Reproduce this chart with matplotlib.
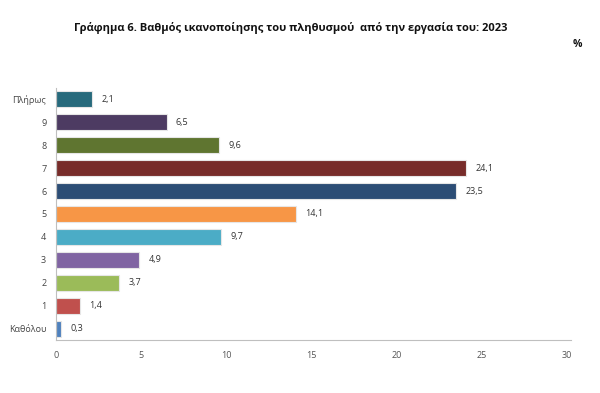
import matplotlib
matplotlib.use("Agg")
import matplotlib.pyplot as plt

categories = ["Καθόλου", "1", "2", "3", "4", "5", "6", "7", "8", "9", "Πλήρως"]
values = [0.3, 1.4, 3.7, 4.9, 9.7, 14.1, 23.5, 24.1, 9.6, 6.5, 2.1]
labels = ["0,3", "1,4", "3,7", "4,9", "9,7", "14,1", "23,5", "24,1", "9,6", "6,5", "2,1"]
colors = ["#4f81bd", "#c0504d", "#9bbb59", "#8064a2", "#4bacc6", "#f79646",
          "#2c4d75", "#772c2a", "#5f7530", "#4d3b62", "#276a7c"]
xticks = [0, 5, 10, 15, 20, 25, 30]

plt.rcParams['font.family'] = ['Open Sans', 'DejaVu Sans']

fig = plt.figure(figsize=(6, 3.93), dpi=100)
ax = fig.add_axes([0.0933, 0.135, 0.858, 0.641])

ypos = list(range(len(categories)))
ax.barh(ypos, values, height=0.68, color=colors, edgecolor="#e6e6e6", linewidth=0.8)
for y, v, l in zip(ypos, values, labels):
    ax.text(v + 0.55, y, l, va="center", ha="left", fontsize=6.5, color="#333333")

ax.set_xlim(0, 30.25)
ax.set_ylim(-0.48, 10.48)
ax.set_xticks(xticks)
ax.set_xticklabels([str(t) for t in xticks], fontsize=6.5, color="#555555")
ax.set_yticks(ypos)
ax.set_yticklabels(categories, fontsize=6.5, color="#444444")
ax.tick_params(axis="y", length=0, pad=7)
ax.tick_params(axis="x", length=0, pad=8)

for s in ["top", "right"]:
    ax.spines[s].set_visible(False)
for s in ["left", "bottom"]:
    ax.spines[s].set_color("#bfbfbf")
    ax.spines[s].set_linewidth(0.8)

fig.text(0.485, 0.93, "Γράφημα 6. Βαθμός ικανοποίησης του πληθυσμού  από την εργασία του: 2023",
         ha="center", va="center", fontsize=8, fontweight="bold", color="#111111")
fig.text(0.963, 0.888, "%", ha="center", va="center", fontsize=7.5, fontweight="bold", color="#111111")

fig.savefig("out.png", dpi=100)
